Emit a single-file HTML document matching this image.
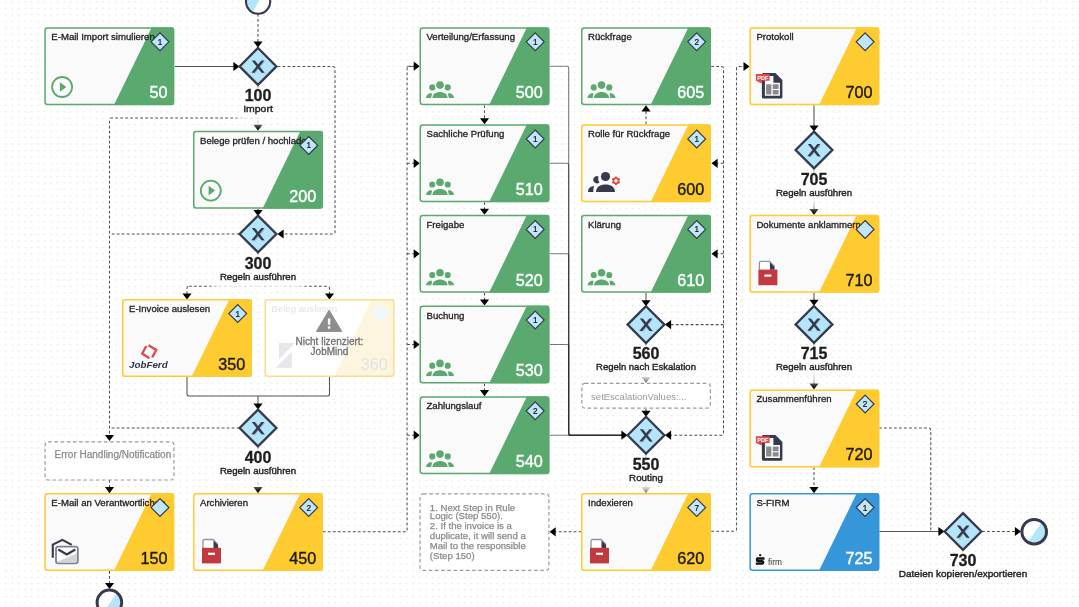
<!DOCTYPE html><html><head><meta charset="utf-8"><style>html,body{margin:0;padding:0;background:#fff;overflow:hidden}svg{display:block;font-family:"Liberation Sans",sans-serif;will-change:transform}</style></head><body>
<svg width="1079" height="607" viewBox="0 0 1079 607">
<defs><pattern id="dots" x="2.7" y="-1.43" width="6.464" height="6.464" patternUnits="userSpaceOnUse"><circle cx="3.232" cy="3.232" r="0.8" fill="#e3e3e3"/></pattern>
<radialGradient id="fade"><stop offset="0" stop-color="#000" stop-opacity="1"/><stop offset="0.55" stop-color="#000" stop-opacity="0.95"/><stop offset="1" stop-color="#000" stop-opacity="0"/></radialGradient></defs>
<rect width="1079" height="607" fill="#fff"/><rect width="1079" height="607" fill="url(#dots)"/>
<g mask="url(#lm)">
<path d="M258 14 V47" fill="none" stroke="#505050" stroke-width="1.05" stroke-dasharray="2.8 2.2"/>
<polygon points="258.0,47.5 253.4,41.4 262.6,41.4" fill="#000"/>
<path d="M174.7 66.5 H234" fill="none" stroke="#505050" stroke-width="1.05"/>
<polygon points="239.5,66.5 233.4,61.9 233.4,71.1" fill="#000"/>
<path d="M277.5 66.5 H333 Q335 66.5 335 68.5 V232 Q335 234 333 234 H283" fill="none" stroke="#505050" stroke-width="1.05" stroke-dasharray="2.8 2.2"/>
<polygon points="277.5,234.0 283.6,229.4 283.6,238.6" fill="#000"/>
<path d="M258 85.5 V125" fill="none" stroke="#505050" stroke-width="1.05" stroke-dasharray="2.8 2.2"/>
<polygon points="258.0,130.8 253.4,124.7 262.6,124.7" fill="#000"/>
<path d="M258 118 H111.5 Q109.5 118 109.5 120 V436" fill="none" stroke="#505050" stroke-width="1.05" stroke-dasharray="2.8 2.2"/>
<polygon points="109.5,441.0 104.9,434.9 114.1,434.9" fill="#000"/>
<path d="M258 208.8 V211" fill="none" stroke="#505050" stroke-width="1.05"/>
<polygon points="258.0,216.0 253.4,209.9 262.6,209.9" fill="#000"/>
<path d="M239.5 234 H109.5" fill="none" stroke="#505050" stroke-width="1.05" stroke-dasharray="2.8 2.2"/>
<path d="M258 252 V286.2 M189 286.2 H327.5 Q329.5 286.2 329.5 288.2 V294 M187 294 V288.2 Q187 286.2 189 286.2" fill="none" stroke="#505050" stroke-width="1.05" stroke-dasharray="2.8 2.2"/>
<polygon points="187.0,299.5 182.4,293.4 191.6,293.4" fill="#000"/>
<polygon points="329.5,299.5 324.9,293.4 334.1,293.4" fill="#000"/>
<path d="M187 377 V394 Q187 396 189 396 H327.5 Q329.5 396 329.5 394 V377 M258 396 V404" fill="none" stroke="#555" stroke-width="1.05"/>
<polygon points="258.0,409.5 253.4,403.4 262.6,403.4" fill="#000"/>
<path d="M239.5 428 H109.5" fill="none" stroke="#505050" stroke-width="1.05" stroke-dasharray="2.8 2.2"/>
<path d="M109.5 480 V488" fill="none" stroke="#505050" stroke-width="1.05" stroke-dasharray="2.8 2.2"/>
<polygon points="109.5,493.2 104.9,487.1 114.1,487.1" fill="#000"/>
<path d="M109.5 571 V584" fill="none" stroke="#505050" stroke-width="1.05" stroke-dasharray="2.8 2.2"/>
<polygon points="109.5,589.0 104.9,582.9 114.1,582.9" fill="#000"/>
<path d="M258 447 V488" fill="none" stroke="#505050" stroke-width="1.05" stroke-dasharray="2.8 2.2"/>
<polygon points="258.0,493.2 253.4,487.1 262.6,487.1" fill="#000"/>
<path d="M322.8 531.8 H405 Q407.1 531.8 407.1 529.8 V68.5 Q407.1 66.5 409.1 66.5 H414" fill="none" stroke="#505050" stroke-width="1.05" stroke-dasharray="2.8 2.2"/>
<path d="M407.1 66.2 H414" fill="none" stroke="#505050" stroke-width="1.05" stroke-dasharray="2.8 2.2"/>
<polygon points="419.8,66.2 413.7,61.6 413.7,70.8" fill="#000"/>
<path d="M407.1 163.3 H414" fill="none" stroke="#505050" stroke-width="1.05" stroke-dasharray="2.8 2.2"/>
<polygon points="419.8,163.3 413.7,158.7 413.7,167.9" fill="#000"/>
<path d="M407.1 253.8 H414" fill="none" stroke="#505050" stroke-width="1.05" stroke-dasharray="2.8 2.2"/>
<polygon points="419.8,253.8 413.7,249.2 413.7,258.4" fill="#000"/>
<path d="M407.1 344.5 H414" fill="none" stroke="#505050" stroke-width="1.05" stroke-dasharray="2.8 2.2"/>
<polygon points="419.8,344.5 413.7,339.9 413.7,349.1" fill="#000"/>
<path d="M407.1 435.2 H414" fill="none" stroke="#505050" stroke-width="1.05" stroke-dasharray="2.8 2.2"/>
<polygon points="419.8,435.2 413.7,430.6 413.7,439.8" fill="#000"/>
<path d="M484.5 105.2 V119.3" fill="none" stroke="#505050" stroke-width="1.05" stroke-dasharray="2.8 2.2"/>
<polygon points="484.5,124.3 479.9,118.2 489.1,118.2" fill="#000"/>
<path d="M484.5 202.3 V209.8" fill="none" stroke="#505050" stroke-width="1.05" stroke-dasharray="2.8 2.2"/>
<polygon points="484.5,214.8 479.9,208.7 489.1,208.7" fill="#000"/>
<path d="M484.5 292.8 V300.5" fill="none" stroke="#505050" stroke-width="1.05" stroke-dasharray="2.8 2.2"/>
<polygon points="484.5,305.5 479.9,299.4 489.1,299.4" fill="#000"/>
<path d="M484.5 383.5 V391.2" fill="none" stroke="#505050" stroke-width="1.05" stroke-dasharray="2.8 2.2"/>
<polygon points="484.5,396.2 479.9,390.1 489.1,390.1" fill="#000"/>
<path d="M549.7 66.2 H566.7 Q568.7 66.2 568.7 68.2 V433.2 Q568.7 435.2 570.7 435.2 H622" fill="none" stroke="#222" stroke-width="1.1" opacity="0.6"/>
<path d="M549.7 163.3 H566.7 Q568.7 163.3 568.7 165.3 V433.2 Q568.7 435.2 570.7 435.2 H622" fill="none" stroke="#222" stroke-width="1.1" opacity="0.6"/>
<path d="M549.7 253.8 H566.7 Q568.7 253.8 568.7 255.8 V433.2 Q568.7 435.2 570.7 435.2 H622" fill="none" stroke="#222" stroke-width="1.1" opacity="0.6"/>
<path d="M549.7 344.5 H566.7 Q568.7 344.5 568.7 346.5 V433.2 Q568.7 435.2 570.7 435.2 H622" fill="none" stroke="#222" stroke-width="1.1" opacity="0.6"/>
<path d="M549.7 435.2 H622" fill="none" stroke="#222" stroke-width="1.1" opacity="0.6"/>
<polygon points="627.5,435.2 621.4,430.6 621.4,439.8" fill="#000"/>
<path d="M711.2 66.5 H721.5 Q723.5 66.5 723.5 68.5 V433.2 Q723.5 435.2 721.5 435.2 H670" fill="none" stroke="#505050" stroke-width="1.05" stroke-dasharray="2.8 2.2"/>
<polygon points="665.0,435.2 671.1,430.6 671.1,439.8" fill="#000"/>
<path d="M723.5 163.3 H716.5" fill="none" stroke="#505050" stroke-width="1.05" stroke-dasharray="2.8 2.2"/>
<polygon points="711.5,163.3 717.6,158.7 717.6,167.9" fill="#000"/>
<path d="M723.5 253.8 H716.5" fill="none" stroke="#505050" stroke-width="1.05" stroke-dasharray="2.8 2.2"/>
<polygon points="711.5,253.8 717.6,249.2 717.6,258.4" fill="#000"/>
<path d="M723.5 324.6 H670.0" fill="none" stroke="#505050" stroke-width="1.05" stroke-dasharray="2.8 2.2"/>
<polygon points="665.0,324.6 671.1,320.0 671.1,329.2" fill="#000"/>
<path d="M646 124.3 V110" fill="none" stroke="#505050" stroke-width="1.05" stroke-dasharray="2.8 2.2"/>
<polygon points="646.0,105.3 641.4,111.4 650.6,111.4" fill="#000"/>
<path d="M646 292.8 V301" fill="none" stroke="#505050" stroke-width="1.05"/>
<polygon points="646.0,306.3 641.4,300.2 650.6,300.2" fill="#000"/>
<path d="M646 343 V378" fill="none" stroke="#505050" stroke-width="1.05" stroke-dasharray="2.8 2.2"/>
<polygon points="646.0,383.0 641.4,376.9 650.6,376.9" fill="#000"/>
<path d="M646 409 V411" fill="none" stroke="#505050" stroke-width="1.05" stroke-dasharray="2.8 2.2"/>
<polygon points="646.0,416.8 641.4,410.7 650.6,410.7" fill="#000"/>
<path d="M646 454 V488" fill="none" stroke="#505050" stroke-width="1.05"/>
<polygon points="646.0,493.2 641.4,487.1 650.6,487.1" fill="#000"/>
<path d="M581.5 531.8 H555" fill="none" stroke="#505050" stroke-width="1.05" stroke-dasharray="2.8 2.2"/>
<polygon points="549.6,531.8 555.7,527.2 555.7,536.4" fill="#000"/>
<path d="M711.2 531.2 H734.5 Q736.5 531.2 736.5 529.2 V68.5 Q736.5 66.5 738.5 66.5 H744" fill="none" stroke="#505050" stroke-width="1.05" stroke-dasharray="2.8 2.2"/>
<polygon points="749.6,66.5 743.5,61.9 743.5,71.1" fill="#000"/>
<path d="M814 105.2 V126" fill="none" stroke="#505050" stroke-width="1.05"/>
<polygon points="814.0,131.5 809.4,125.4 818.6,125.4" fill="#000"/>
<path d="M814 169 V210" fill="none" stroke="#505050" stroke-width="1.05"/>
<polygon points="814.0,215.0 809.4,208.9 818.6,208.9" fill="#000"/>
<path d="M814 292.6 V300" fill="none" stroke="#505050" stroke-width="1.05"/>
<polygon points="814.0,305.8 809.4,299.7 818.6,299.7" fill="#000"/>
<path d="M814 343 V384" fill="none" stroke="#505050" stroke-width="1.05"/>
<polygon points="814.0,389.6 809.4,383.5 818.6,383.5" fill="#000"/>
<path d="M814 467.2 V488" fill="none" stroke="#505050" stroke-width="1.05" stroke-dasharray="2.8 2.2"/>
<polygon points="814.0,493.2 809.4,487.1 818.6,487.1" fill="#000"/>
<path d="M879 428 H928.8 Q930.8 428 930.8 430 V529.5 Q930.8 531.5 932.8 531.5 H939" fill="none" stroke="#505050" stroke-width="1.05" stroke-dasharray="2.8 2.2"/>
<path d="M879 531.5 H939" fill="none" stroke="#555" stroke-width="1.05"/>
<polygon points="944.5,531.5 938.4,526.9 938.4,536.1" fill="#000"/>
<path d="M982 531.5 H1016" fill="none" stroke="#505050" stroke-width="1.05" stroke-dasharray="2.8 2.2"/>
<polygon points="1021.0,531.5 1014.9,526.9 1014.9,536.1" fill="#000"/>
</g>
<filter id="mblur" x="-50%" y="-50%" width="200%" height="200%"><feGaussianBlur stdDeviation="5"/></filter>
<mask id="lm" maskUnits="userSpaceOnUse" x="0" y="0" width="1079" height="607"><rect width="1079" height="607" fill="#fff"/><g filter="url(#mblur)">
<rect x="237.3" y="86.4" width="41.5" height="37.0" fill="#000"/>
<rect x="212.7" y="254.0" width="90.6" height="37.0" fill="#000"/>
<rect x="212.7" y="448.0" width="90.6" height="37.0" fill="#000"/>
<rect x="588.0" y="344.6" width="115.9" height="37.0" fill="#000"/>
<rect x="622.3" y="455.2" width="47.4" height="37.0" fill="#000"/>
<rect x="768.7" y="170.0" width="90.6" height="37.0" fill="#000"/>
<rect x="768.7" y="344.4" width="90.6" height="37.0" fill="#000"/>
<rect x="893.7" y="551.5" width="138.6" height="37.0" fill="#000"/>
</g></mask>
<clipPath id="ehc"><rect x="44.5" y="441" width="130" height="40"/></clipPath>
<rect x="45.1" y="441.8" width="128.8" height="38.2" rx="3" fill="#fff" stroke="#9a9a9a" stroke-width="1.2" stroke-dasharray="3.6 2.6"/>
<text clip-path="url(#ehc)" x="54.5" y="458" font-size="10" fill="#8a8a8a" stroke="#8a8a8a" stroke-width="0.25">Error Handling/Notification</text>
<rect x="420.1" y="493.8" width="128.8" height="76.6" rx="3" fill="#fff" stroke="#9a9a9a" stroke-width="1.2" stroke-dasharray="3.6 2.6"/>
<text x="429.8" y="510.5" font-size="9.6" fill="#8a8a8a" stroke="#8a8a8a" stroke-width="0.25">1. Next Step in Rule</text>
<text x="429.8" y="519.4" font-size="9.6" fill="#8a8a8a" stroke="#8a8a8a" stroke-width="0.25">Logic (Step 550).</text>
<text x="429.8" y="529.3" font-size="9.6" fill="#8a8a8a" stroke="#8a8a8a" stroke-width="0.25">2. If the invoice is a</text>
<text x="429.8" y="539.0" font-size="9.6" fill="#8a8a8a" stroke="#8a8a8a" stroke-width="0.25">duplicate, it will send a</text>
<text x="429.8" y="549.0" font-size="9.6" fill="#8a8a8a" stroke="#8a8a8a" stroke-width="0.25">Mail to the responsible</text>
<text x="429.8" y="559.0" font-size="9.6" fill="#8a8a8a" stroke="#8a8a8a" stroke-width="0.25">(Step 150)</text>
<rect x="581.9" y="383.4" width="128.4" height="24.8" rx="3" fill="#fff" stroke="#9a9a9a" stroke-width="1.2" stroke-dasharray="3.6 2.6"/>
<text x="591.1" y="400" font-size="9.5" fill="#999">setEscalationValues:...</text>
<polygon points="258.0,48.0 276.4,66.4 258.0,84.8 239.6,66.4" fill="#b4e5fa" stroke="#363a4c" stroke-width="2.3" stroke-linejoin="miter"/>
<g transform="translate(0.9,0.9)" fill="#7f9aa8" opacity="0.40">
<polygon points="251.8,60.4 254.9,60.4 264.6,72.7 261.5,72.7"/>
<polygon points="261.3,60.4 264.4,60.4 254.4,72.7 251.3,72.7"/>
</g>
<g transform="translate(0.0,0.0)" fill="#363a4c" opacity="1.00">
<polygon points="251.8,60.4 254.9,60.4 264.6,72.7 261.5,72.7"/>
<polygon points="261.3,60.4 264.4,60.4 254.4,72.7 251.3,72.7"/>
</g>
<text x="258.0" y="101.0" font-size="16" font-weight="bold" text-anchor="middle" fill="#1d1d1d" stroke="#1d1d1d" stroke-width="0.3">100</text>
<text x="258.0" y="112.0" font-size="9.8" text-anchor="middle" fill="#222" stroke="#222" stroke-width="0.4" textLength="29.7" lengthAdjust="spacingAndGlyphs">Import</text>
<polygon points="258.0,215.6 276.4,234.0 258.0,252.4 239.6,234.0" fill="#b4e5fa" stroke="#363a4c" stroke-width="2.3" stroke-linejoin="miter"/>
<g transform="translate(0.9,0.9)" fill="#7f9aa8" opacity="0.40">
<polygon points="251.8,228.0 254.9,228.0 264.6,240.3 261.5,240.3"/>
<polygon points="261.3,228.0 264.4,228.0 254.4,240.3 251.3,240.3"/>
</g>
<g transform="translate(0.0,0.0)" fill="#363a4c" opacity="1.00">
<polygon points="251.8,228.0 254.9,228.0 264.6,240.3 261.5,240.3"/>
<polygon points="261.3,228.0 264.4,228.0 254.4,240.3 251.3,240.3"/>
</g>
<text x="258.0" y="268.6" font-size="16" font-weight="bold" text-anchor="middle" fill="#1d1d1d" stroke="#1d1d1d" stroke-width="0.3">300</text>
<text x="258.0" y="279.6" font-size="9.8" text-anchor="middle" fill="#222" stroke="#222" stroke-width="0.4" textLength="76.2" lengthAdjust="spacingAndGlyphs">Regeln ausführen</text>
<polygon points="258.0,409.6 276.4,428.0 258.0,446.4 239.6,428.0" fill="#b4e5fa" stroke="#363a4c" stroke-width="2.3" stroke-linejoin="miter"/>
<g transform="translate(0.9,0.9)" fill="#7f9aa8" opacity="0.40">
<polygon points="251.8,422.0 254.9,422.0 264.6,434.3 261.5,434.3"/>
<polygon points="261.3,422.0 264.4,422.0 254.4,434.3 251.3,434.3"/>
</g>
<g transform="translate(0.0,0.0)" fill="#363a4c" opacity="1.00">
<polygon points="251.8,422.0 254.9,422.0 264.6,434.3 261.5,434.3"/>
<polygon points="261.3,422.0 264.4,422.0 254.4,434.3 251.3,434.3"/>
</g>
<text x="258.0" y="462.6" font-size="16" font-weight="bold" text-anchor="middle" fill="#1d1d1d" stroke="#1d1d1d" stroke-width="0.3">400</text>
<text x="258.0" y="473.6" font-size="9.8" text-anchor="middle" fill="#222" stroke="#222" stroke-width="0.4" textLength="76.2" lengthAdjust="spacingAndGlyphs">Regeln ausführen</text>
<polygon points="646.0,306.2 664.4,324.6 646.0,343.0 627.6,324.6" fill="#b4e5fa" stroke="#363a4c" stroke-width="2.3" stroke-linejoin="miter"/>
<g transform="translate(0.9,0.9)" fill="#7f9aa8" opacity="0.40">
<polygon points="639.8,318.6 642.9,318.6 652.6,330.9 649.5,330.9"/>
<polygon points="649.3,318.6 652.4,318.6 642.4,330.9 639.3,330.9"/>
</g>
<g transform="translate(0.0,0.0)" fill="#363a4c" opacity="1.00">
<polygon points="639.8,318.6 642.9,318.6 652.6,330.9 649.5,330.9"/>
<polygon points="649.3,318.6 652.4,318.6 642.4,330.9 639.3,330.9"/>
</g>
<text x="646.0" y="359.2" font-size="16" font-weight="bold" text-anchor="middle" fill="#1d1d1d" stroke="#1d1d1d" stroke-width="0.3">560</text>
<text x="646.0" y="370.2" font-size="9.8" text-anchor="middle" fill="#222" stroke="#222" stroke-width="0.4" textLength="99.9" lengthAdjust="spacingAndGlyphs">Regeln nach Eskalation</text>
<polygon points="646.0,416.8 664.4,435.2 646.0,453.6 627.6,435.2" fill="#b4e5fa" stroke="#363a4c" stroke-width="2.3" stroke-linejoin="miter"/>
<g transform="translate(0.9,0.9)" fill="#7f9aa8" opacity="0.40">
<polygon points="639.8,429.2 642.9,429.2 652.6,441.5 649.5,441.5"/>
<polygon points="649.3,429.2 652.4,429.2 642.4,441.5 639.3,441.5"/>
</g>
<g transform="translate(0.0,0.0)" fill="#363a4c" opacity="1.00">
<polygon points="639.8,429.2 642.9,429.2 652.6,441.5 649.5,441.5"/>
<polygon points="649.3,429.2 652.4,429.2 642.4,441.5 639.3,441.5"/>
</g>
<text x="646.0" y="469.8" font-size="16" font-weight="bold" text-anchor="middle" fill="#1d1d1d" stroke="#1d1d1d" stroke-width="0.3">550</text>
<text x="646.0" y="480.8" font-size="9.8" text-anchor="middle" fill="#222" stroke="#222" stroke-width="0.4" textLength="33.8" lengthAdjust="spacingAndGlyphs">Routing</text>
<polygon points="814.0,131.6 832.4,150.0 814.0,168.4 795.6,150.0" fill="#b4e5fa" stroke="#363a4c" stroke-width="2.3" stroke-linejoin="miter"/>
<g transform="translate(0.9,0.9)" fill="#7f9aa8" opacity="0.40">
<polygon points="807.8,144.0 810.9,144.0 820.6,156.3 817.5,156.3"/>
<polygon points="817.3,144.0 820.4,144.0 810.4,156.3 807.3,156.3"/>
</g>
<g transform="translate(0.0,0.0)" fill="#363a4c" opacity="1.00">
<polygon points="807.8,144.0 810.9,144.0 820.6,156.3 817.5,156.3"/>
<polygon points="817.3,144.0 820.4,144.0 810.4,156.3 807.3,156.3"/>
</g>
<text x="814.0" y="184.6" font-size="16" font-weight="bold" text-anchor="middle" fill="#1d1d1d" stroke="#1d1d1d" stroke-width="0.3">705</text>
<text x="814.0" y="195.6" font-size="9.8" text-anchor="middle" fill="#222" stroke="#222" stroke-width="0.4" textLength="76.2" lengthAdjust="spacingAndGlyphs">Regeln ausführen</text>
<polygon points="814.0,306.0 832.4,324.4 814.0,342.8 795.6,324.4" fill="#b4e5fa" stroke="#363a4c" stroke-width="2.3" stroke-linejoin="miter"/>
<g transform="translate(0.9,0.9)" fill="#7f9aa8" opacity="0.40">
<polygon points="807.8,318.4 810.9,318.4 820.6,330.7 817.5,330.7"/>
<polygon points="817.3,318.4 820.4,318.4 810.4,330.7 807.3,330.7"/>
</g>
<g transform="translate(0.0,0.0)" fill="#363a4c" opacity="1.00">
<polygon points="807.8,318.4 810.9,318.4 820.6,330.7 817.5,330.7"/>
<polygon points="817.3,318.4 820.4,318.4 810.4,330.7 807.3,330.7"/>
</g>
<text x="814.0" y="359.0" font-size="16" font-weight="bold" text-anchor="middle" fill="#1d1d1d" stroke="#1d1d1d" stroke-width="0.3">715</text>
<text x="814.0" y="370.0" font-size="9.8" text-anchor="middle" fill="#222" stroke="#222" stroke-width="0.4" textLength="76.2" lengthAdjust="spacingAndGlyphs">Regeln ausführen</text>
<polygon points="963.0,513.1 981.4,531.5 963.0,549.9 944.6,531.5" fill="#b4e5fa" stroke="#363a4c" stroke-width="2.3" stroke-linejoin="miter"/>
<g transform="translate(0.9,0.9)" fill="#7f9aa8" opacity="0.40">
<polygon points="956.8,525.5 959.9,525.5 969.6,537.8 966.5,537.8"/>
<polygon points="966.3,525.5 969.4,525.5 959.4,537.8 956.3,537.8"/>
</g>
<g transform="translate(0.0,0.0)" fill="#363a4c" opacity="1.00">
<polygon points="956.8,525.5 959.9,525.5 969.6,537.8 966.5,537.8"/>
<polygon points="966.3,525.5 969.4,525.5 959.4,537.8 956.3,537.8"/>
</g>
<text x="963.0" y="566.1" font-size="16" font-weight="bold" text-anchor="middle" fill="#1d1d1d" stroke="#1d1d1d" stroke-width="0.3">730</text>
<text x="963.0" y="577.1" font-size="9.8" text-anchor="middle" fill="#222" stroke="#222" stroke-width="0.4" textLength="128.4" lengthAdjust="spacingAndGlyphs">Dateien kopieren/exportieren</text>
<clipPath id="ev258"><circle cx="258.1" cy="1.6" r="12.1"/></clipPath>
<circle cx="258.1" cy="1.6" r="12.1" fill="#fff"/>
<polygon clip-path="url(#ev258)" points="244.0,-12.5 266.6,-12.5 250.6,15.7 244.0,15.7" fill="#b4e5fa"/>
<circle cx="258.1" cy="1.6" r="12.1" fill="none" stroke="#363a4c" stroke-width="2.1"/>
<clipPath id="ev109"><circle cx="109.4" cy="602.4" r="12.3"/></clipPath>
<circle cx="109.4" cy="602.4" r="12.3" fill="#fff"/>
<polygon clip-path="url(#ev109)" points="120.4,588.1 123.7,588.1 123.7,616.7 100.4,616.7" fill="#b4e5fa"/>
<circle cx="109.4" cy="602.4" r="12.3" fill="none" stroke="#363a4c" stroke-width="3.0"/>
<clipPath id="ev1034"><circle cx="1034.2" cy="531.7" r="12.3"/></clipPath>
<circle cx="1034.2" cy="531.7" r="12.3" fill="#fff"/>
<polygon clip-path="url(#ev1034)" points="1045.2,517.4 1048.5,517.4 1048.5,546.0 1025.2,546.0" fill="#b4e5fa"/>
<circle cx="1034.2" cy="531.7" r="12.3" fill="none" stroke="#363a4c" stroke-width="3.0"/>
<clipPath id="c50"><rect x="44.30" y="27.20" width="130.00" height="78.00" rx="3"/></clipPath>
<rect x="44.30" y="27.20" width="130.00" height="78.00" rx="3" fill="#fafafa"/>
<polygon clip-path="url(#c50)" points="151.80,27.20 174.30,27.20 174.30,105.20 113.80,105.20" fill="#5aa96f"/>
<rect x="45.05" y="27.95" width="128.50" height="76.50" rx="2.5" fill="none" stroke="#5aa96f" stroke-width="1.5"/>
<text x="51.30" y="40.20" font-size="9.6" fill="#222222" stroke="#222222" stroke-width="0.3">E-Mail Import simulieren</text>
<text x="167.50" y="98.10" font-size="16.2" text-anchor="end" fill="#fff" stroke="#fff" stroke-width="0.4">50</text>
<g><polygon points="160.0,32.9 168.9,41.8 160.0,50.7 151.1,41.8" fill="#bfe6fa" stroke="#363a4c" stroke-width="1.2"/>
<text x="160.0" y="44.8" font-size="8.2" text-anchor="middle" fill="#111" stroke="#111" stroke-width="0.2">1</text>
</g>
<circle cx="62.1" cy="87.0" r="10" fill="none" stroke="#5aa96f" stroke-width="1.8"/>
<polygon points="59.9,82.2 66.4,87.0 59.9,91.8" fill="#5aa96f"/>
<clipPath id="c200"><rect x="193.00" y="130.80" width="130.00" height="78.00" rx="3"/></clipPath>
<rect x="193.00" y="130.80" width="130.00" height="78.00" rx="3" fill="#fafafa"/>
<polygon clip-path="url(#c200)" points="300.50,130.80 323.00,130.80 323.00,208.80 262.50,208.80" fill="#5aa96f"/>
<rect x="193.75" y="131.55" width="128.50" height="76.50" rx="2.5" fill="none" stroke="#5aa96f" stroke-width="1.5"/>
<text x="200.00" y="143.80" font-size="9.6" fill="#222222" stroke="#222222" stroke-width="0.3">Belege prüfen / hochladen</text>
<text x="316.20" y="201.70" font-size="16.2" text-anchor="end" fill="#fff" stroke="#fff" stroke-width="0.4">200</text>
<g><polygon points="308.7,136.5 317.6,145.4 308.7,154.3 299.8,145.4" fill="#bfe6fa" stroke="#363a4c" stroke-width="1.2"/>
<text x="308.7" y="148.4" font-size="8.2" text-anchor="middle" fill="#111" stroke="#111" stroke-width="0.2">1</text>
</g>
<circle cx="210.8" cy="190.6" r="10" fill="none" stroke="#5aa96f" stroke-width="1.8"/>
<polygon points="208.6,185.8 215.1,190.6 208.6,195.4" fill="#5aa96f"/>
<clipPath id="c350"><rect x="122.00" y="299.00" width="130.00" height="78.00" rx="3"/></clipPath>
<rect x="122.00" y="299.00" width="130.00" height="78.00" rx="3" fill="#fafafa"/>
<polygon clip-path="url(#c350)" points="229.50,299.00 252.00,299.00 252.00,377.00 191.50,377.00" fill="#fecb30"/>
<rect x="122.75" y="299.75" width="128.50" height="76.50" rx="2.5" fill="none" stroke="#fecb30" stroke-width="1.5"/>
<text x="129.00" y="312.00" font-size="9.6" fill="#222222" stroke="#222222" stroke-width="0.3">E-Invoice auslesen</text>
<text x="245.20" y="369.90" font-size="16.2" text-anchor="end" fill="#1d1d1d" stroke="#1d1d1d" stroke-width="0.4">350</text>
<g><polygon points="237.7,304.7 246.6,313.6 237.7,322.5 228.8,313.6" fill="#bfe6fa" stroke="#363a4c" stroke-width="1.2"/>
<text x="237.7" y="316.6" font-size="8.2" text-anchor="middle" fill="#111" stroke="#111" stroke-width="0.2">1</text>
</g>
<g transform="translate(122.0,299.0)" fill="none" stroke="#e04a4a" stroke-width="2.3" stroke-linejoin="miter">
<polyline points="24.3,47 20.2,54.5 27.4,59.2"/>
<polyline points="26.5,46.3 34.3,51 30.2,58.4"/>
</g>
<text x="129.0" y="368.0" font-size="9.8" font-weight="bold" font-style="italic" fill="#2e3348">JobFerd</text>
<clipPath id="c360"><rect x="264.50" y="299.00" width="130.00" height="78.00" rx="3"/></clipPath>
<rect x="264.50" y="299.00" width="130.00" height="78.00" rx="3" fill="#ffffff"/>
<polygon clip-path="url(#c360)" points="372.00,299.00 394.50,299.00 394.50,377.00 334.00,377.00" fill="#fdf5dd"/>
<rect x="265.25" y="299.75" width="128.50" height="76.50" rx="2.5" fill="none" stroke="#f8dd8e" stroke-width="1.5"/>
<text x="271.50" y="312.00" font-size="9.6" fill="#e2e2e2">Beleg auslesen</text>
<text x="387.70" y="369.90" font-size="16.2" text-anchor="end" fill="#e0e2e8">360</text>
<polygon points="380.2,304.6 389.2,313.6 380.2,322.6 371.2,313.6" fill="#edf7fd" stroke="#fbfbfb" stroke-width="1"/>
<clipPath id="c150"><rect x="44.30" y="493.00" width="130.00" height="78.00" rx="3"/></clipPath>
<rect x="44.30" y="493.00" width="130.00" height="78.00" rx="3" fill="#fafafa"/>
<polygon clip-path="url(#c150)" points="151.80,493.00 174.30,493.00 174.30,571.00 113.80,571.00" fill="#fecb30"/>
<rect x="45.05" y="493.75" width="128.50" height="76.50" rx="2.5" fill="none" stroke="#fecb30" stroke-width="1.5"/>
<text x="51.30" y="506.00" font-size="9.6" fill="#222222" stroke="#222222" stroke-width="0.3">E-Mail an Verantwortlichen</text>
<text x="167.50" y="563.90" font-size="16.2" text-anchor="end" fill="#1d1d1d" stroke="#1d1d1d" stroke-width="0.4">150</text>
<g><polygon points="160.0,498.7 168.9,507.6 160.0,516.5 151.1,507.6" fill="#bfe6fa" stroke="#363a4c" stroke-width="1.2"/>
</g>
<g transform="translate(51.8,539.6)">
<path d="M1 18.2 V5 L10.6 0.3 L20 5.3" fill="none" stroke="#363a4c" stroke-width="2.1"/>
<rect x="4.2" y="7" width="21.8" height="16.8" rx="2.3" fill="#fff" stroke="#7d8292" stroke-width="1.8"/>
<path d="M5 22.5 L25 14 V22 A1.5 1.5 0 0 1 23.5 23 H6 Z" fill="#d4d4d4"/>
<path d="M6.5 9.8 L15 14.8 L23.5 9.8" fill="none" stroke="#363a4c" stroke-width="2.3"/>
</g>
<clipPath id="c450"><rect x="193.00" y="493.00" width="130.00" height="78.00" rx="3"/></clipPath>
<rect x="193.00" y="493.00" width="130.00" height="78.00" rx="3" fill="#fafafa"/>
<polygon clip-path="url(#c450)" points="300.50,493.00 323.00,493.00 323.00,571.00 262.50,571.00" fill="#fecb30"/>
<rect x="193.75" y="493.75" width="128.50" height="76.50" rx="2.5" fill="none" stroke="#fecb30" stroke-width="1.5"/>
<text x="200.00" y="506.00" font-size="9.6" fill="#222222" stroke="#222222" stroke-width="0.3">Archivieren</text>
<text x="316.20" y="563.90" font-size="16.2" text-anchor="end" fill="#1d1d1d" stroke="#1d1d1d" stroke-width="0.4">450</text>
<g><polygon points="308.7,498.7 317.6,507.6 308.7,516.5 299.8,507.6" fill="#bfe6fa" stroke="#363a4c" stroke-width="1.2"/>
<text x="308.7" y="510.6" font-size="8.2" text-anchor="middle" fill="#111" stroke="#111" stroke-width="0.2">2</text>
</g>
<g transform="translate(202.0,539.0)">
<path d="M1 9 V2 A1.5 1.5 0 0 1 2.5 0.5 H11 L15.5 5 V9" fill="#fff" stroke="#8d93a3" stroke-width="1.3"/>
<polygon points="11.5,1.5 16,6 16,9 11.5,9" fill="#363a4c"/>
<rect x="0" y="8.8" width="19" height="15.6" fill="#c03a3f"/>
<rect x="6" y="13.7" width="7" height="2.2" fill="#fff"/>
</g>
<clipPath id="c500"><rect x="419.50" y="27.20" width="130.00" height="78.00" rx="3"/></clipPath>
<rect x="419.50" y="27.20" width="130.00" height="78.00" rx="3" fill="#fafafa"/>
<polygon clip-path="url(#c500)" points="527.00,27.20 549.50,27.20 549.50,105.20 489.00,105.20" fill="#5aa96f"/>
<rect x="420.25" y="27.95" width="128.50" height="76.50" rx="2.5" fill="none" stroke="#5aa96f" stroke-width="1.5"/>
<text x="426.50" y="40.20" font-size="9.6" fill="#222222" stroke="#222222" stroke-width="0.3">Verteilung/Erfassung</text>
<text x="542.70" y="98.10" font-size="16.2" text-anchor="end" fill="#fff" stroke="#fff" stroke-width="0.4">500</text>
<g><polygon points="535.2,32.9 544.1,41.8 535.2,50.7 526.3,41.8" fill="#bfe6fa" stroke="#363a4c" stroke-width="1.2"/>
<text x="535.2" y="44.8" font-size="8.2" text-anchor="middle" fill="#111" stroke="#111" stroke-width="0.2">1</text>
</g>
<g transform="translate(426.0,81.2)">
<circle cx="6.3" cy="6.2" r="3.1" fill="#5aa96f"/><circle cx="21.7" cy="6.2" r="3.1" fill="#5aa96f"/>
<path d="M0 16.8 C0 14.2 2 12.2 5.5 11.8 L7 16.8 Z" fill="#5aa96f"/><path d="M28 16.8 C28 14.2 26 12.2 22.5 11.8 L21 16.8 Z" fill="#5aa96f"/>
<circle cx="14" cy="3.9" r="5.2" fill="#fafafa"/>
<path d="M6.4 16.8 C6.4 12.8 10 10.7 14 10.7 C18 10.7 21.6 12.8 21.6 16.8 Z" fill="#fafafa" stroke="#fafafa" stroke-width="2.6"/>
<circle cx="14" cy="3.9" r="3.8" fill="#5aa96f"/>
<path d="M6.4 16.8 C6.4 12.8 10 10.7 14 10.7 C18 10.7 21.6 12.8 21.6 16.8 Z" fill="#5aa96f"/>
<rect x="-1" y="16.8" width="30" height="2" fill="#fafafa"/>
</g>
<clipPath id="c510"><rect x="419.50" y="124.30" width="130.00" height="78.00" rx="3"/></clipPath>
<rect x="419.50" y="124.30" width="130.00" height="78.00" rx="3" fill="#fafafa"/>
<polygon clip-path="url(#c510)" points="527.00,124.30 549.50,124.30 549.50,202.30 489.00,202.30" fill="#5aa96f"/>
<rect x="420.25" y="125.05" width="128.50" height="76.50" rx="2.5" fill="none" stroke="#5aa96f" stroke-width="1.5"/>
<text x="426.50" y="137.30" font-size="9.6" fill="#222222" stroke="#222222" stroke-width="0.3">Sachliche Prüfung</text>
<text x="542.70" y="195.20" font-size="16.2" text-anchor="end" fill="#fff" stroke="#fff" stroke-width="0.4">510</text>
<g><polygon points="535.2,130.0 544.1,138.9 535.2,147.8 526.3,138.9" fill="#bfe6fa" stroke="#363a4c" stroke-width="1.2"/>
<text x="535.2" y="141.9" font-size="8.2" text-anchor="middle" fill="#111" stroke="#111" stroke-width="0.2">1</text>
</g>
<g transform="translate(426.0,178.3)">
<circle cx="6.3" cy="6.2" r="3.1" fill="#5aa96f"/><circle cx="21.7" cy="6.2" r="3.1" fill="#5aa96f"/>
<path d="M0 16.8 C0 14.2 2 12.2 5.5 11.8 L7 16.8 Z" fill="#5aa96f"/><path d="M28 16.8 C28 14.2 26 12.2 22.5 11.8 L21 16.8 Z" fill="#5aa96f"/>
<circle cx="14" cy="3.9" r="5.2" fill="#fafafa"/>
<path d="M6.4 16.8 C6.4 12.8 10 10.7 14 10.7 C18 10.7 21.6 12.8 21.6 16.8 Z" fill="#fafafa" stroke="#fafafa" stroke-width="2.6"/>
<circle cx="14" cy="3.9" r="3.8" fill="#5aa96f"/>
<path d="M6.4 16.8 C6.4 12.8 10 10.7 14 10.7 C18 10.7 21.6 12.8 21.6 16.8 Z" fill="#5aa96f"/>
<rect x="-1" y="16.8" width="30" height="2" fill="#fafafa"/>
</g>
<clipPath id="c520"><rect x="419.50" y="214.80" width="130.00" height="78.00" rx="3"/></clipPath>
<rect x="419.50" y="214.80" width="130.00" height="78.00" rx="3" fill="#fafafa"/>
<polygon clip-path="url(#c520)" points="527.00,214.80 549.50,214.80 549.50,292.80 489.00,292.80" fill="#5aa96f"/>
<rect x="420.25" y="215.55" width="128.50" height="76.50" rx="2.5" fill="none" stroke="#5aa96f" stroke-width="1.5"/>
<text x="426.50" y="227.80" font-size="9.6" fill="#222222" stroke="#222222" stroke-width="0.3">Freigabe</text>
<text x="542.70" y="285.70" font-size="16.2" text-anchor="end" fill="#fff" stroke="#fff" stroke-width="0.4">520</text>
<g><polygon points="535.2,220.5 544.1,229.4 535.2,238.3 526.3,229.4" fill="#bfe6fa" stroke="#363a4c" stroke-width="1.2"/>
<text x="535.2" y="232.4" font-size="8.2" text-anchor="middle" fill="#111" stroke="#111" stroke-width="0.2">1</text>
</g>
<g transform="translate(426.0,268.8)">
<circle cx="6.3" cy="6.2" r="3.1" fill="#5aa96f"/><circle cx="21.7" cy="6.2" r="3.1" fill="#5aa96f"/>
<path d="M0 16.8 C0 14.2 2 12.2 5.5 11.8 L7 16.8 Z" fill="#5aa96f"/><path d="M28 16.8 C28 14.2 26 12.2 22.5 11.8 L21 16.8 Z" fill="#5aa96f"/>
<circle cx="14" cy="3.9" r="5.2" fill="#fafafa"/>
<path d="M6.4 16.8 C6.4 12.8 10 10.7 14 10.7 C18 10.7 21.6 12.8 21.6 16.8 Z" fill="#fafafa" stroke="#fafafa" stroke-width="2.6"/>
<circle cx="14" cy="3.9" r="3.8" fill="#5aa96f"/>
<path d="M6.4 16.8 C6.4 12.8 10 10.7 14 10.7 C18 10.7 21.6 12.8 21.6 16.8 Z" fill="#5aa96f"/>
<rect x="-1" y="16.8" width="30" height="2" fill="#fafafa"/>
</g>
<clipPath id="c530"><rect x="419.50" y="305.50" width="130.00" height="78.00" rx="3"/></clipPath>
<rect x="419.50" y="305.50" width="130.00" height="78.00" rx="3" fill="#fafafa"/>
<polygon clip-path="url(#c530)" points="527.00,305.50 549.50,305.50 549.50,383.50 489.00,383.50" fill="#5aa96f"/>
<rect x="420.25" y="306.25" width="128.50" height="76.50" rx="2.5" fill="none" stroke="#5aa96f" stroke-width="1.5"/>
<text x="426.50" y="318.50" font-size="9.6" fill="#222222" stroke="#222222" stroke-width="0.3">Buchung</text>
<text x="542.70" y="376.40" font-size="16.2" text-anchor="end" fill="#fff" stroke="#fff" stroke-width="0.4">530</text>
<g><polygon points="535.2,311.2 544.1,320.1 535.2,329.0 526.3,320.1" fill="#bfe6fa" stroke="#363a4c" stroke-width="1.2"/>
<text x="535.2" y="323.1" font-size="8.2" text-anchor="middle" fill="#111" stroke="#111" stroke-width="0.2">1</text>
</g>
<g transform="translate(426.0,359.5)">
<circle cx="6.3" cy="6.2" r="3.1" fill="#5aa96f"/><circle cx="21.7" cy="6.2" r="3.1" fill="#5aa96f"/>
<path d="M0 16.8 C0 14.2 2 12.2 5.5 11.8 L7 16.8 Z" fill="#5aa96f"/><path d="M28 16.8 C28 14.2 26 12.2 22.5 11.8 L21 16.8 Z" fill="#5aa96f"/>
<circle cx="14" cy="3.9" r="5.2" fill="#fafafa"/>
<path d="M6.4 16.8 C6.4 12.8 10 10.7 14 10.7 C18 10.7 21.6 12.8 21.6 16.8 Z" fill="#fafafa" stroke="#fafafa" stroke-width="2.6"/>
<circle cx="14" cy="3.9" r="3.8" fill="#5aa96f"/>
<path d="M6.4 16.8 C6.4 12.8 10 10.7 14 10.7 C18 10.7 21.6 12.8 21.6 16.8 Z" fill="#5aa96f"/>
<rect x="-1" y="16.8" width="30" height="2" fill="#fafafa"/>
</g>
<clipPath id="c540"><rect x="419.50" y="396.20" width="130.00" height="78.00" rx="3"/></clipPath>
<rect x="419.50" y="396.20" width="130.00" height="78.00" rx="3" fill="#fafafa"/>
<polygon clip-path="url(#c540)" points="527.00,396.20 549.50,396.20 549.50,474.20 489.00,474.20" fill="#5aa96f"/>
<rect x="420.25" y="396.95" width="128.50" height="76.50" rx="2.5" fill="none" stroke="#5aa96f" stroke-width="1.5"/>
<text x="426.50" y="409.20" font-size="9.6" fill="#222222" stroke="#222222" stroke-width="0.3">Zahlungslauf</text>
<text x="542.70" y="467.10" font-size="16.2" text-anchor="end" fill="#fff" stroke="#fff" stroke-width="0.4">540</text>
<g><polygon points="535.2,401.9 544.1,410.8 535.2,419.7 526.3,410.8" fill="#bfe6fa" stroke="#363a4c" stroke-width="1.2"/>
<text x="535.2" y="413.8" font-size="8.2" text-anchor="middle" fill="#111" stroke="#111" stroke-width="0.2">2</text>
</g>
<g transform="translate(426.0,450.2)">
<circle cx="6.3" cy="6.2" r="3.1" fill="#5aa96f"/><circle cx="21.7" cy="6.2" r="3.1" fill="#5aa96f"/>
<path d="M0 16.8 C0 14.2 2 12.2 5.5 11.8 L7 16.8 Z" fill="#5aa96f"/><path d="M28 16.8 C28 14.2 26 12.2 22.5 11.8 L21 16.8 Z" fill="#5aa96f"/>
<circle cx="14" cy="3.9" r="5.2" fill="#fafafa"/>
<path d="M6.4 16.8 C6.4 12.8 10 10.7 14 10.7 C18 10.7 21.6 12.8 21.6 16.8 Z" fill="#fafafa" stroke="#fafafa" stroke-width="2.6"/>
<circle cx="14" cy="3.9" r="3.8" fill="#5aa96f"/>
<path d="M6.4 16.8 C6.4 12.8 10 10.7 14 10.7 C18 10.7 21.6 12.8 21.6 16.8 Z" fill="#5aa96f"/>
<rect x="-1" y="16.8" width="30" height="2" fill="#fafafa"/>
</g>
<clipPath id="c605"><rect x="581.00" y="27.20" width="130.00" height="78.00" rx="3"/></clipPath>
<rect x="581.00" y="27.20" width="130.00" height="78.00" rx="3" fill="#fafafa"/>
<polygon clip-path="url(#c605)" points="688.50,27.20 711.00,27.20 711.00,105.20 650.50,105.20" fill="#5aa96f"/>
<rect x="581.75" y="27.95" width="128.50" height="76.50" rx="2.5" fill="none" stroke="#5aa96f" stroke-width="1.5"/>
<text x="588.00" y="40.20" font-size="9.6" fill="#222222" stroke="#222222" stroke-width="0.3">Rückfrage</text>
<text x="704.20" y="98.10" font-size="16.2" text-anchor="end" fill="#fff" stroke="#fff" stroke-width="0.4">605</text>
<g><polygon points="696.7,32.9 705.6,41.8 696.7,50.7 687.8,41.8" fill="#bfe6fa" stroke="#363a4c" stroke-width="1.2"/>
<text x="696.7" y="44.8" font-size="8.2" text-anchor="middle" fill="#111" stroke="#111" stroke-width="0.2">2</text>
</g>
<g transform="translate(587.5,81.2)">
<circle cx="6.3" cy="6.2" r="3.1" fill="#5aa96f"/><circle cx="21.7" cy="6.2" r="3.1" fill="#5aa96f"/>
<path d="M0 16.8 C0 14.2 2 12.2 5.5 11.8 L7 16.8 Z" fill="#5aa96f"/><path d="M28 16.8 C28 14.2 26 12.2 22.5 11.8 L21 16.8 Z" fill="#5aa96f"/>
<circle cx="14" cy="3.9" r="5.2" fill="#fafafa"/>
<path d="M6.4 16.8 C6.4 12.8 10 10.7 14 10.7 C18 10.7 21.6 12.8 21.6 16.8 Z" fill="#fafafa" stroke="#fafafa" stroke-width="2.6"/>
<circle cx="14" cy="3.9" r="3.8" fill="#5aa96f"/>
<path d="M6.4 16.8 C6.4 12.8 10 10.7 14 10.7 C18 10.7 21.6 12.8 21.6 16.8 Z" fill="#5aa96f"/>
<rect x="-1" y="16.8" width="30" height="2" fill="#fafafa"/>
</g>
<clipPath id="c600"><rect x="581.00" y="124.30" width="130.00" height="78.00" rx="3"/></clipPath>
<rect x="581.00" y="124.30" width="130.00" height="78.00" rx="3" fill="#fafafa"/>
<polygon clip-path="url(#c600)" points="688.50,124.30 711.00,124.30 711.00,202.30 650.50,202.30" fill="#fecb30"/>
<rect x="581.75" y="125.05" width="128.50" height="76.50" rx="2.5" fill="none" stroke="#fecb30" stroke-width="1.5"/>
<text x="588.00" y="137.30" font-size="9.6" fill="#222222" stroke="#222222" stroke-width="0.3">Rolle für Rückfrage</text>
<text x="704.20" y="195.20" font-size="16.2" text-anchor="end" fill="#1d1d1d" stroke="#1d1d1d" stroke-width="0.4">600</text>
<g><polygon points="696.7,130.0 705.6,138.9 696.7,147.8 687.8,138.9" fill="#bfe6fa" stroke="#363a4c" stroke-width="1.2"/>
<text x="696.7" y="141.9" font-size="8.2" text-anchor="middle" fill="#111" stroke="#111" stroke-width="0.2">1</text>
</g>
<g transform="translate(588.0,171.9)" fill="#363a4c">
<circle cx="17.5" cy="4.6" r="4.6"/>
<path d="M10.5 4.5 A3.6 3.6 0 1 0 11.5 10.3 A6 6 0 0 1 10.5 4.5Z"/>
<path d="M8 20 C8 15 12.5 12.6 17.5 12.6 C22.5 12.6 27 15 27 20 Z"/>
<path d="M0 20 C0 16.5 2.5 14.2 6.3 14 C5.5 15.5 5.3 17.5 5.3 20 Z"/>
</g>
<g transform="translate(616.0,180.8)"><circle r="2.6" fill="none" stroke="#e04a4a" stroke-width="1.8"/>
<rect x="-1" y="-4.2" width="2" height="2" fill="#e04a4a" transform="rotate(0)"/>
<rect x="-1" y="-4.2" width="2" height="2" fill="#e04a4a" transform="rotate(60)"/>
<rect x="-1" y="-4.2" width="2" height="2" fill="#e04a4a" transform="rotate(120)"/>
<rect x="-1" y="-4.2" width="2" height="2" fill="#e04a4a" transform="rotate(180)"/>
<rect x="-1" y="-4.2" width="2" height="2" fill="#e04a4a" transform="rotate(240)"/>
<rect x="-1" y="-4.2" width="2" height="2" fill="#e04a4a" transform="rotate(300)"/>
</g>
<clipPath id="c610"><rect x="581.00" y="214.80" width="130.00" height="78.00" rx="3"/></clipPath>
<rect x="581.00" y="214.80" width="130.00" height="78.00" rx="3" fill="#fafafa"/>
<polygon clip-path="url(#c610)" points="688.50,214.80 711.00,214.80 711.00,292.80 650.50,292.80" fill="#5aa96f"/>
<rect x="581.75" y="215.55" width="128.50" height="76.50" rx="2.5" fill="none" stroke="#5aa96f" stroke-width="1.5"/>
<text x="588.00" y="227.80" font-size="9.6" fill="#222222" stroke="#222222" stroke-width="0.3">Klärung</text>
<text x="704.20" y="285.70" font-size="16.2" text-anchor="end" fill="#fff" stroke="#fff" stroke-width="0.4">610</text>
<g><polygon points="696.7,220.5 705.6,229.4 696.7,238.3 687.8,229.4" fill="#bfe6fa" stroke="#363a4c" stroke-width="1.2"/>
<text x="696.7" y="232.4" font-size="8.2" text-anchor="middle" fill="#111" stroke="#111" stroke-width="0.2">1</text>
</g>
<g transform="translate(587.5,268.8)">
<circle cx="6.3" cy="6.2" r="3.1" fill="#5aa96f"/><circle cx="21.7" cy="6.2" r="3.1" fill="#5aa96f"/>
<path d="M0 16.8 C0 14.2 2 12.2 5.5 11.8 L7 16.8 Z" fill="#5aa96f"/><path d="M28 16.8 C28 14.2 26 12.2 22.5 11.8 L21 16.8 Z" fill="#5aa96f"/>
<circle cx="14" cy="3.9" r="5.2" fill="#fafafa"/>
<path d="M6.4 16.8 C6.4 12.8 10 10.7 14 10.7 C18 10.7 21.6 12.8 21.6 16.8 Z" fill="#fafafa" stroke="#fafafa" stroke-width="2.6"/>
<circle cx="14" cy="3.9" r="3.8" fill="#5aa96f"/>
<path d="M6.4 16.8 C6.4 12.8 10 10.7 14 10.7 C18 10.7 21.6 12.8 21.6 16.8 Z" fill="#5aa96f"/>
<rect x="-1" y="16.8" width="30" height="2" fill="#fafafa"/>
</g>
<clipPath id="c620"><rect x="581.00" y="493.00" width="130.00" height="78.00" rx="3"/></clipPath>
<rect x="581.00" y="493.00" width="130.00" height="78.00" rx="3" fill="#fafafa"/>
<polygon clip-path="url(#c620)" points="688.50,493.00 711.00,493.00 711.00,571.00 650.50,571.00" fill="#fecb30"/>
<rect x="581.75" y="493.75" width="128.50" height="76.50" rx="2.5" fill="none" stroke="#fecb30" stroke-width="1.5"/>
<text x="588.00" y="506.00" font-size="9.6" fill="#222222" stroke="#222222" stroke-width="0.3">Indexieren</text>
<text x="704.20" y="563.90" font-size="16.2" text-anchor="end" fill="#1d1d1d" stroke="#1d1d1d" stroke-width="0.4">620</text>
<g><polygon points="696.7,498.7 705.6,507.6 696.7,516.5 687.8,507.6" fill="#bfe6fa" stroke="#363a4c" stroke-width="1.2"/>
<text x="696.7" y="510.6" font-size="8.2" text-anchor="middle" fill="#111" stroke="#111" stroke-width="0.2">7</text>
</g>
<g transform="translate(590.0,539.0)">
<path d="M1 9 V2 A1.5 1.5 0 0 1 2.5 0.5 H11 L15.5 5 V9" fill="#fff" stroke="#8d93a3" stroke-width="1.3"/>
<polygon points="11.5,1.5 16,6 16,9 11.5,9" fill="#363a4c"/>
<rect x="0" y="8.8" width="19" height="15.6" fill="#c03a3f"/>
<rect x="6" y="13.7" width="7" height="2.2" fill="#fff"/>
</g>
<clipPath id="c700"><rect x="749.40" y="27.20" width="130.00" height="78.00" rx="3"/></clipPath>
<rect x="749.40" y="27.20" width="130.00" height="78.00" rx="3" fill="#fafafa"/>
<polygon clip-path="url(#c700)" points="856.90,27.20 879.40,27.20 879.40,105.20 818.90,105.20" fill="#fecb30"/>
<rect x="750.15" y="27.95" width="128.50" height="76.50" rx="2.5" fill="none" stroke="#fecb30" stroke-width="1.5"/>
<text x="756.40" y="40.20" font-size="9.6" fill="#222222" stroke="#222222" stroke-width="0.3">Protokoll</text>
<text x="872.60" y="98.10" font-size="16.2" text-anchor="end" fill="#1d1d1d" stroke="#1d1d1d" stroke-width="0.4">700</text>
<g><polygon points="865.1,32.9 874.0,41.8 865.1,50.7 856.2,41.8" fill="#bfe6fa" stroke="#363a4c" stroke-width="1.2"/>
</g>
<g transform="translate(761.9,72.9)">
<path d="M1.5 0 H13.5 L20.5 7 V24 A1.5 1.5 0 0 1 19 25.6 H1.5 A1.5 1.5 0 0 1 0 24 V1.5 A1.5 1.5 0 0 1 1.5 0Z" fill="#363a4c"/>
<path d="M3 3 H11.5 V9.8 H18 V22.8 H3 Z" fill="#fff"/>
<rect x="4.2" y="11.3" width="5.3" height="10.2" rx="0.6" fill="#8a8a8a"/>
<rect x="10.8" y="11.3" width="5.9" height="4.8" rx="0.5" fill="#8a8a8a"/>
<rect x="10.8" y="17.2" width="5.9" height="4.3" rx="0.5" fill="#8a8a8a"/>
<polygon points="-6,1.2 7.7,1.2 7.7,7.9 0,7.9 -0.2,10.5 -6,7.9" fill="#e04a4a"/>
<text x="0.9" y="6.9" font-size="5.5" font-weight="bold" text-anchor="middle" fill="#fff">PDF</text>
</g>
<clipPath id="c710"><rect x="749.40" y="214.80" width="130.00" height="78.00" rx="3"/></clipPath>
<rect x="749.40" y="214.80" width="130.00" height="78.00" rx="3" fill="#fafafa"/>
<polygon clip-path="url(#c710)" points="856.90,214.80 879.40,214.80 879.40,292.80 818.90,292.80" fill="#fecb30"/>
<rect x="750.15" y="215.55" width="128.50" height="76.50" rx="2.5" fill="none" stroke="#fecb30" stroke-width="1.5"/>
<text x="756.40" y="227.80" font-size="9.6" fill="#222222" stroke="#222222" stroke-width="0.3">Dokumente anklammern</text>
<text x="872.60" y="285.70" font-size="16.2" text-anchor="end" fill="#1d1d1d" stroke="#1d1d1d" stroke-width="0.4">710</text>
<g><polygon points="865.1,220.5 874.0,229.4 865.1,238.3 856.2,229.4" fill="#bfe6fa" stroke="#363a4c" stroke-width="1.2"/>
</g>
<g transform="translate(758.4,260.8)">
<path d="M1 9 V2 A1.5 1.5 0 0 1 2.5 0.5 H11 L15.5 5 V9" fill="#fff" stroke="#8d93a3" stroke-width="1.3"/>
<polygon points="11.5,1.5 16,6 16,9 11.5,9" fill="#363a4c"/>
<rect x="0" y="8.8" width="19" height="15.6" fill="#c03a3f"/>
<rect x="6" y="13.7" width="7" height="2.2" fill="#fff"/>
</g>
<clipPath id="c720"><rect x="749.40" y="389.40" width="130.00" height="78.00" rx="3"/></clipPath>
<rect x="749.40" y="389.40" width="130.00" height="78.00" rx="3" fill="#fafafa"/>
<polygon clip-path="url(#c720)" points="856.90,389.40 879.40,389.40 879.40,467.40 818.90,467.40" fill="#fecb30"/>
<rect x="750.15" y="390.15" width="128.50" height="76.50" rx="2.5" fill="none" stroke="#fecb30" stroke-width="1.5"/>
<text x="756.40" y="402.40" font-size="9.6" fill="#222222" stroke="#222222" stroke-width="0.3">Zusammenführen</text>
<text x="872.60" y="460.30" font-size="16.2" text-anchor="end" fill="#1d1d1d" stroke="#1d1d1d" stroke-width="0.4">720</text>
<g><polygon points="865.1,395.1 874.0,404.0 865.1,412.9 856.2,404.0" fill="#bfe6fa" stroke="#363a4c" stroke-width="1.2"/>
<text x="865.1" y="407.0" font-size="8.2" text-anchor="middle" fill="#111" stroke="#111" stroke-width="0.2">2</text>
</g>
<g transform="translate(761.9,435.1)">
<path d="M1.5 0 H13.5 L20.5 7 V24 A1.5 1.5 0 0 1 19 25.6 H1.5 A1.5 1.5 0 0 1 0 24 V1.5 A1.5 1.5 0 0 1 1.5 0Z" fill="#363a4c"/>
<path d="M3 3 H11.5 V9.8 H18 V22.8 H3 Z" fill="#fff"/>
<rect x="4.2" y="11.3" width="5.3" height="10.2" rx="0.6" fill="#8a8a8a"/>
<rect x="10.8" y="11.3" width="5.9" height="4.8" rx="0.5" fill="#8a8a8a"/>
<rect x="10.8" y="17.2" width="5.9" height="4.3" rx="0.5" fill="#8a8a8a"/>
<polygon points="-6,1.2 7.7,1.2 7.7,7.9 0,7.9 -0.2,10.5 -6,7.9" fill="#e04a4a"/>
<text x="0.9" y="6.9" font-size="5.5" font-weight="bold" text-anchor="middle" fill="#fff">PDF</text>
</g>
<clipPath id="c725"><rect x="749.40" y="493.00" width="130.00" height="78.00" rx="3"/></clipPath>
<rect x="749.40" y="493.00" width="130.00" height="78.00" rx="3" fill="#fafafa"/>
<polygon clip-path="url(#c725)" points="856.90,493.00 879.40,493.00 879.40,571.00 818.90,571.00" fill="#3597da"/>
<rect x="750.15" y="493.75" width="128.50" height="76.50" rx="2.5" fill="none" stroke="#3597da" stroke-width="1.5"/>
<text x="756.40" y="506.00" font-size="9.6" fill="#222222" stroke="#222222" stroke-width="0.3">S-FIRM</text>
<text x="872.60" y="563.90" font-size="16.2" text-anchor="end" fill="#fff" stroke="#fff" stroke-width="0.4">725</text>
<g><polygon points="865.1,498.7 874.0,507.6 865.1,516.5 856.2,507.6" fill="#bfe6fa" stroke="#363a4c" stroke-width="1.2"/>
<text x="865.1" y="510.6" font-size="8.2" text-anchor="middle" fill="#111" stroke="#111" stroke-width="0.2">1</text>
</g>
<circle cx="760.2" cy="555.2" r="1.15" fill="#111"/>
<path d="M764.5 558.5 H757.4 Q756.9 558.5 756.9 559.9 Q756.9 561.2 758.2 561.2 H762.1 Q763.3 561.2 763.3 562.6 Q763.3 563.6 762.1 563.6 H755.8" fill="none" stroke="#111" stroke-width="2.3"/>
<text x="768.0" y="564.6" font-size="8.3" fill="#333">firm</text>
<polygon points="329.1,310.2 341.8,331.4 316.4,331.4" fill="#8e8e8e" stroke="#8e8e8e" stroke-width="1" stroke-linejoin="round"/>
<rect x="327.9" y="318.5" width="2.4" height="6.2" fill="#fff"/>
<rect x="327.9" y="326.3" width="2.4" height="2.4" fill="#fff"/>
<text x="329.5" y="344.6" font-size="10" text-anchor="middle" fill="#707070" stroke="#707070" stroke-width="0.3">Nicht lizenziert:</text>
<text x="329.5" y="354.9" font-size="10" text-anchor="middle" fill="#707070" stroke="#707070" stroke-width="0.3">JobMind</text>
<polygon points="279,343 294.6,343 279,359.5" fill="#e6e7ea"/>
<polygon points="291.8,352 291.8,367.7 275.6,367.7" fill="#e6e7ea"/>
</svg></body></html>
